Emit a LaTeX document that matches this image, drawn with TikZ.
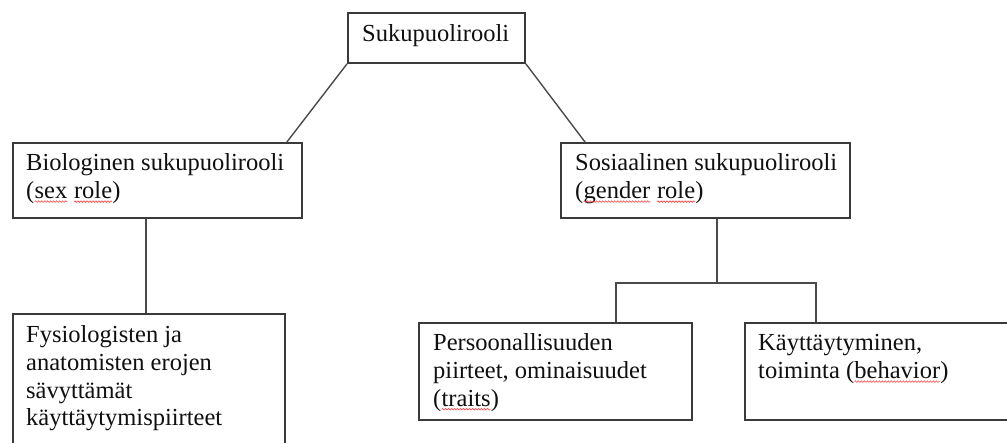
\documentclass[tikz,border=0pt]{standalone}
\usepackage{fontspec}
\setmainfont{Liberation Serif}
\usetikzlibrary{decorations.pathmorphing}
\newcommand\spellwave[1]{\tikz[baseline=(sw.base)]{\node[inner sep=0pt, outer sep=0pt] (sw) {#1};
  \draw[red!75, line width=0.6pt, decorate, decoration={snake, amplitude=0.8pt, segment length=3pt}]
    ([yshift=-3pt]sw.base west) -- ([yshift=-3pt]sw.base east);}}
\definecolor{boxline}{HTML}{3A3A3A}
\definecolor{conline}{HTML}{4A4A4A}
\definecolor{txt}{HTML}{101010}
\tikzset{
  box/.style={draw=boxline, line width=1.9pt, rectangle, inner sep=0pt, anchor=north west},
  lbl/.style={anchor=base west, inner sep=0pt, align=left, text=txt,
     font=\fontsize{24.5}{27.6}\selectfont},
  con/.style={draw=conline, line width=1.4pt}
}
\begin{document}
\begin{tikzpicture}[x=1pt,y=-1pt]
\useasboundingbox (0,0) rectangle (1007,443);
\clip (0,0) rectangle (1007,443);
\fill[white] (0,0) rectangle (1007,443);
% boxes
\node[box, minimum width=177pt, minimum height=50pt] (top) at (347,12) {};
\node[box, minimum width=289pt, minimum height=75pt] (bio) at (12,142) {};
\node[box, minimum width=289pt, minimum height=75pt] (sos) at (560,142) {};
\node[box, minimum width=272pt, minimum height=160pt] (fys) at (12,313) {};
\node[box, minimum width=273pt, minimum height=97pt] (pers) at (418,322) {};
\node[box, minimum width=300pt, minimum height=97pt] (kay) at (744,322) {};
% texts (anchor = baseline of the last line)
\node[lbl] (ttop) at (362,42) {Sukupuolirooli};
\node[lbl] (tbio) at (26,198.6) {Biologinen sukupuolirooli\\(\spellwave{sex} \spellwave{role})};
\node[lbl] (tsos) at (575,198.6) {Sosiaalinen sukupuolirooli\\(\spellwave{gender} \spellwave{role})};
\node[lbl] (tfys) at (26,425.8) {Fysiologisten ja\\anatomisten erojen\\sävyttämät\\käyttäytymispiirteet};
\node[lbl] (tpers) at (433,406.2) {Persoonallisuuden\\piirteet, ominaisuudet\\(\spellwave{traits})};
\node[lbl] (tkay) at (758,378.6) {Käyttäytyminen,\\toiminta (\spellwave{behavior})};
% connectors
\draw[con] (top.south west) -- ([xshift=-16pt]bio.north east);
\draw[con] (top.south east) -- ([xshift=25pt]sos.north west);
\draw[con] ([xshift=-11.5pt]bio.south) -- ([xshift=-11.5pt]bio.south |- fys.north);
\coordinate (jm) at (717,283);
\coordinate (jl) at (616,283);
\coordinate (jr) at (816,283);
\draw[con] (sos.south -| jm) -- (jm);
\draw[con] (jl |- pers.north) -- (jl) -- (jr) -- (jr |- kay.north);
\end{tikzpicture}
\end{document}
